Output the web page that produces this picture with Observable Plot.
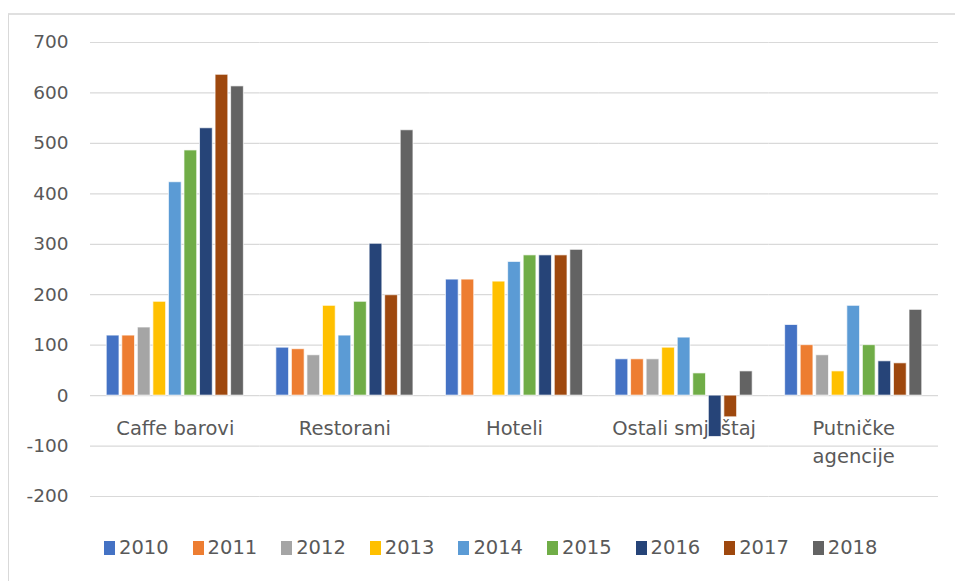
<!DOCTYPE html>
<html>
<head>
<meta charset="utf-8">
<script src="https://cdn.jsdelivr.net/npm/d3@7"></script>
<script src="https://cdn.jsdelivr.net/npm/@observablehq/plot@0.6"></script>
<style>
  html, body { margin: 0; padding: 0; background: #ffffff; overflow: hidden; width: 955px; height: 581px; }
  #frame { position: absolute; left: 8px; top: 13px; width: 2000px; height: 2000px;
           border-left: 1px solid #d9d9d9; border-top: 2px solid #e0e0e0; }
  #chart { position: absolute; left: 0; top: 0; }
  #legend { position: absolute; left: 104px; top: 536px; display: flex; font-family: "DejaVu Sans", sans-serif;
            font-size: 19.5px; color: #595959; }
  .item { display: flex; align-items: center; width: 88.6px; }
  .sw { width: 11px; height: 14px; margin-right: 4px; }
</style>
</head>
<body>
<div id="frame"></div>
<div id="chart"></div>
<div id="legend"></div>
<script>
const categories = ["Caffe barovi", "Restorani", "Hoteli", "Ostali smještaj", "Putničke\nagencije"];
const years = ["2010", "2011", "2012", "2013", "2014", "2015", "2016", "2017", "2018"];
const caffeBarovi = [119, 119, 135, 186, 423, 486, 530, 636, 613];
const restorani = [95, 92, 80, 178, 119, 186, 301, 199, 526];
const hoteli = [230, 230, null, 226, 265, 278, 278, 278, 289];
const ostaliSmjestaj = [72, 72, 72, 95, 115, 44, -82, -43, 48];
const putnickeAgencije = [140, 100, 80, 48, 178, 100, 68, 64, 170];
const yTicks = [-200, -100, 0, 100, 200, 300, 400, 500, 600, 700];
const colors = ["#4472C4", "#ED7D31", "#A5A5A5", "#FFC000", "#5B9BD5", "#70AD47", "#264478", "#9E480E", "#636363"];

const series = [caffeBarovi, restorani, hoteli, ostaliSmjestaj, putnickeAgencije];
const rows = [];
categories.forEach((c, i) => {
  years.forEach((y, j) => {
    if (series[i][j] != null) rows.push({category: c, year: y, value: series[i][j]});
  });
});

const W = 955, ML = 90, MR = 17;
const pInner = 0.175, pOuter = pInner / 2;
const step = (W - ML - MR) / categories.length;
const gapHalf = step * pInner / 2;

const chart = Plot.plot({
  width: W,
  height: 510,
  marginLeft: ML,
  marginRight: MR,
  marginTop: 42,
  marginBottom: 14,
  style: {fontFamily: "DejaVu Sans, sans-serif", fontSize: "18px", color: "#595959", background: "transparent", overflow: "visible"},
  fx: {domain: categories, paddingInner: pInner, paddingOuter: pOuter, round: false, axis: null, label: null},
  x: {domain: years, paddingInner: 0.18, paddingOuter: 0.09, round: false, axis: null},
  y: {domain: [-200, 700], axis: null},
  color: {domain: years, range: colors},
  marks: [
    Plot.ruleY(yTicks, {stroke: "#d9d9d9", strokeWidth: 1.2, insetLeft: -gapHalf, insetRight: -gapHalf}),
    Plot.axisY(yTicks, {tickSize: 0, tickPadding: 22 + gapHalf, fill: "#595959", fontSize: 18.5, label: null,
      tickFormat: d => String(d)}),
    Plot.text(categories, {fx: d => d, y: () => 0, text: d => d, fontSize: 19.5, fill: "#595959",
      lineAnchor: "top", dy: 19, lineHeight: 1.45}),
    Plot.barY(rows, {fx: "category", x: "year", y: "value", fill: "year", stroke: "#ffffff", strokeOpacity: 0.7, strokeWidth: 1})
  ]
});
document.getElementById("chart").appendChild(chart);

const legend = document.getElementById("legend");
years.forEach((y, i) => {
  const item = document.createElement("div");
  item.className = "item";
  const sw = document.createElement("div");
  sw.className = "sw";
  sw.style.background = colors[i];
  const t = document.createElement("span");
  t.textContent = y;
  item.appendChild(sw);
  item.appendChild(t);
  legend.appendChild(item);
});
</script>
</body>
</html>
